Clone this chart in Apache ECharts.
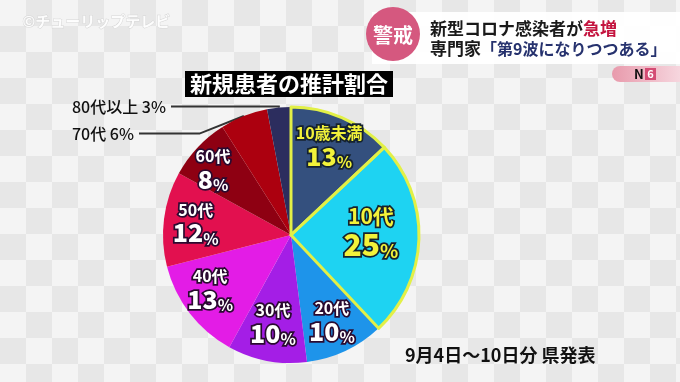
<!DOCTYPE html>
<html><head><meta charset="utf-8">
<script src="https://cdn.jsdelivr.net/npm/echarts@6/dist/echarts.min.js"></script>
<style>
html,body{margin:0;padding:0;}
#c{width:680px;height:382px;background-color:#efefef;background-image:repeating-conic-gradient(#e7e7e7 0 25%, #f4f4f4 0 50%);background-size:52px 52px;}
</style></head><body><div id="c"></div>
<script>
// ---- data ----
const categories = ['10歳未満','10代','20代','30代','40代','50代','60代','70代','80代以上'];
const shares = [13,25,10,10,13,12,8,6,3];
const sliceColors = ['#34507e','#1ed3f2','#1e94ea','#a41ee6','#e31ce6','#e2104f','#8e0012','#ac000f','#2c2d5e'];
const outlinedSlices = ['10歳未満','10代'];
const outsideLabelSlices = ['70代','80代以上'];
const yellowLabelSlices = ['10歳未満','10代'];
const bigLabelSlices = ['10代'];
const titleText = '新規患者の推計割合';
const sourceText = '9月4日〜10日分 県発表';

// ---- style ----
const FONT = '"Noto Sans CJK JP", "Noto Sans", sans-serif';
const CENTER = [291, 235];
const R = 128;
const labelNudge = { '10代': [-16, -6], '60代': [-8, 0], '40代': [-5, -4], '30代': [0, -6] };

function richSet(key, fill, border, nSize, pSize) {
  const base = {color: fill, textBorderColor: border, textBorderWidth: 3.5, fontFamily: FONT, fontWeight: 'bold', align: 'center'};
  const o = {};
  o['n' + key] = Object.assign({}, base, {fontSize: nSize, lineHeight: nSize + 4});
  o['p' + key] = Object.assign({}, base, {fontSize: pSize, lineHeight: pSize + 2, fontWeight: 900});
  o['s' + key] = Object.assign({}, base, {fontSize: Math.round(pSize * 0.62), lineHeight: pSize + 2, verticalAlign: 'bottom'});
  return o;
}
const rich = Object.assign({},
  richSet('w', '#ffffff', '#2a0a30', 16, 25),
  richSet('y', '#f2f23a', '#15222e', 16, 25),
  richSet('By', '#f2f23a', '#15222e', 21, 30)
);

const chart = echarts.init(document.getElementById('c'));
const option = {
  backgroundColor: 'transparent',
  animation: false,
  title: [
    {text: titleText, left: 185, top: 71, backgroundColor: '#000', padding: [1, 5, 1, 5],
     textStyle: {color: '#fff', fontSize: 22, lineHeight: 24, fontWeight: 'bold', fontFamily: FONT}},
    {text: sourceText, left: 405, top: 346, padding: 0,
     textStyle: {color: '#111', fontSize: 18, fontWeight: 'bold', fontFamily: FONT}}
  ],
  graphic: [
    {type: 'text', left: 22, top: 13, style: {text: '©チューリップテレビ', fill: 'rgba(255,255,255,0.9)', stroke: '#d6d6d6', lineWidth: 1, fontSize: 15, fontWeight: 'bold', fontFamily: FONT}},
    {type: 'rect', shape: {x: 372, y: 12, width: 308, height: 52}, style: {fill: 'rgba(255,255,255,0.93)'}},
    {type: 'circle', shape: {cx: 393, cy: 34, r: 27}, style: {fill: '#d5587f'}},
    {type: 'text', x: 393, y: 35, style: {text: '警戒', fill: '#fff', fontSize: 20, fontWeight: 'bold', fontFamily: FONT, align: 'center', verticalAlign: 'middle'}},
    {type: 'text', x: 430, y: 29, style: {text: '{a|新型コロナ感染者が}{b|急増}', verticalAlign: 'middle',
      rich: {a: {fill: '#1a1a1a', fontSize: 17, fontWeight: 'bold', fontFamily: FONT}, b: {fill: '#c4143f', fontSize: 17, fontWeight: 'bold', fontFamily: FONT}}}},
    {type: 'text', x: 430, y: 49, style: {text: '{a|専門家}{b|「第9波になりつつある」}', verticalAlign: 'middle',
      rich: {a: {fill: '#1a1a1a', fontSize: 17, fontWeight: 'bold', fontFamily: FONT}, b: {fill: '#26326e', fontSize: 16, fontWeight: 'bold', fontFamily: FONT}}}},
    {type: 'rect', shape: {x: 612, y: 66, width: 68, height: 16, r: [8, 0, 0, 8]},
     style: {fill: new echarts.graphic.LinearGradient(0, 0, 1, 0, [{offset: 0, color: '#e89aac'}, {offset: 1, color: '#f6d6de'}])}},
    {type: 'text', x: 634, y: 74, style: {text: 'N', fill: '#111', fontSize: 13, fontWeight: 'bold', fontFamily: FONT, verticalAlign: 'middle'}},
    {type: 'rect', shape: {x: 645, y: 68, width: 11, height: 12}, style: {fill: '#d44c74'}},
    {type: 'text', x: 650.5, y: 74, style: {text: '6', fill: '#fff', fontSize: 11, fontWeight: 'bold', fontFamily: FONT, align: 'center', verticalAlign: 'middle'}}
  ],
  series: [
    {
      type: 'pie', center: CENTER, radius: [0, R], startAngle: 90, silent: true,
      data: categories.map((n, i) => ({
        name: n, value: shares[i], itemStyle: {color: sliceColors[i]},
        label: {show: outsideLabelSlices.includes(n)}, labelLine: {show: outsideLabelSlices.includes(n)}
      })),
      label: {position: 'outside', alignTo: 'edge', edgeDistance: 72, formatter: '{b} {c}%', color: '#111',
        fontSize: 16, fontFamily: FONT, fontWeight: 500, lineHeight: 25},
      labelLine: {length: 1, length2: 10, lineStyle: {color: '#333', width: 2}},
      emphasis: {disabled: true}
    },
    {
      type: 'pie', center: CENTER, radius: [0, R], startAngle: 90, silent: true, z: 3,
      label: {show: false}, labelLine: {show: false}, emphasis: {disabled: true},
      data: categories.map((n, i) => ({
        name: n, value: shares[i],
        itemStyle: outlinedSlices.includes(n) ? {color: 'transparent', borderColor: '#e2f046', borderWidth: 3} : {color: 'transparent', borderWidth: 0}
      }))
    },
    {
      type: 'pie', center: CENTER, radius: [58, R], startAngle: 90, silent: true, z: 4,
      itemStyle: {color: 'transparent'}, labelLine: {show: false}, emphasis: {disabled: true},
      data: categories.map((n, i) => ({
        name: n, value: shares[i],
        label: {show: !outsideLabelSlices.includes(n), offset: labelNudge[n] || [0, 0]}
      })),
      label: {
        position: 'inside', rich: rich,
        formatter: p => {
          const key = (bigLabelSlices.includes(p.name) ? 'B' : '') + (yellowLabelSlices.includes(p.name) ? 'y' : 'w');
          return '{n' + key + '|' + p.name + '}\n{p' + key + '|' + p.value + '}{s' + key + '|%}';
        }
      }
    }
  ]
};
chart.setOption(option);
</script></body></html>
